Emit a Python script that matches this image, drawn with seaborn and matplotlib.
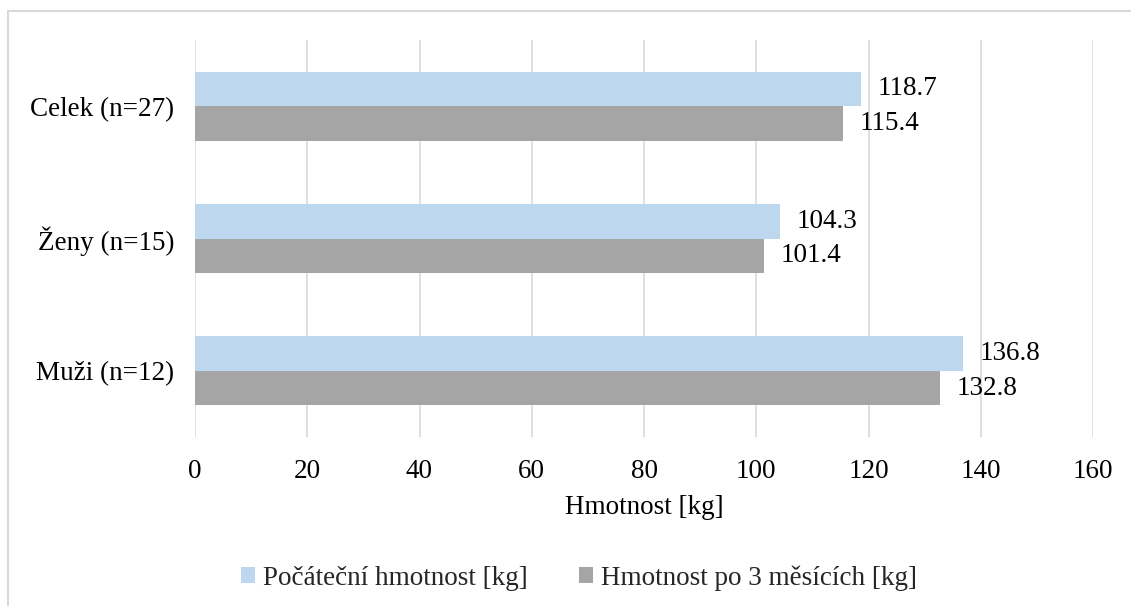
import matplotlib
matplotlib.use("Agg")
import matplotlib.pyplot as plt
import seaborn as sns
import pandas as pd
from matplotlib.patches import Rectangle

# Data
groups = ["Celek (n=27)", "Ženy (n=15)", "Muži (n=12)"]
series_names = ["Počáteční hmotnost [kg]", "Hmotnost po 3 měsících [kg]"]
initial_weight = [118.7, 104.3, 136.8]
weight_after_3m = [115.4, 101.4, 132.8]
x_ticks = [0, 20, 40, 60, 80, 100, 120, 140, 160]

colors = ["#BDD7EE", "#A5A5A5"]
FS = 19.5

df = pd.DataFrame({
    "group": groups * 2,
    "series": [series_names[0]] * 3 + [series_names[1]] * 3,
    "value": initial_weight + weight_after_3m,
})

sns.set_theme(style="white")
plt.rcParams["font.family"] = ["Liberation Serif", "DejaVu Serif"]
plt.rcParams["font.size"] = FS

W, H = 1131, 606
fig = plt.figure(figsize=(W / 100, H / 100), dpi=100)
fig.patch.set_facecolor("white")

# Outer chart frame
fig.patches.append(Rectangle((8 / W, -0.1), 1.2, 1 - 11 / H + 0.1,
                             transform=fig.transFigure, fill=False,
                             edgecolor="#D9D9D9", linewidth=1.5))

ax = fig.add_axes([195 / W, 1 - 437 / H, (1093 - 195) / W, (437 - 40) / H])

sns.barplot(data=df, y="group", x="value", hue="series", order=groups,
            hue_order=series_names, palette=colors, orient="h",
            width=0.52, gap=0, saturation=1, ax=ax, legend=True,
            edgecolor="none", linewidth=0)

for cont in ax.containers:
    ax.bar_label(cont, fmt="%.1f", padding=12, fontsize=FS, color="black")

ax.set_xlim(0, 160)
ax.set_xticks(x_ticks)
ax.set_xticklabels([str(t) for t in x_ticks])
ax.xaxis.grid(True, color="#D9D9D9", linewidth=1.2)
ax.set_axisbelow(True)
for s in ax.spines.values():
    s.set_visible(False)
ax.tick_params(axis="x", length=0, pad=16, labelsize=FS, colors="black")
ax.tick_params(axis="y", length=0, pad=15, labelsize=FS, colors="black")
ax.set_ylabel("")
ax.set_xlabel("Hmotnost [kg]", fontsize=FS, labelpad=8, color="black")

ax.get_legend().remove()
handles, labels = ax.get_legend_handles_labels()
fig.legend(handles[:2], labels[:2], loc="center",
           bbox_to_anchor=(579 / W, 1 - 578 / H), ncol=2, frameon=False,
           fontsize=FS, handlelength=0.5, handleheight=0.5,
           handletextpad=0.3, columnspacing=1.9)

fig.savefig("out.png", dpi=100, facecolor="white")
